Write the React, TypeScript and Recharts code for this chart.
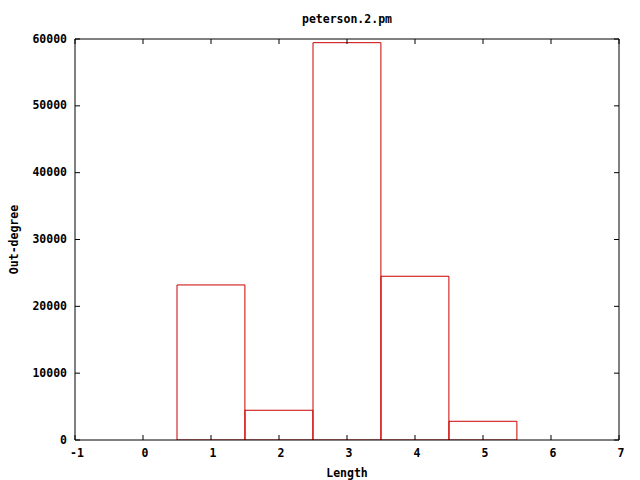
import { ComposedChart, Bar, XAxis, YAxis, Label } from 'recharts';

const lengths = [1, 2, 3, 4, 5];
const outDegree = [23200, 4450, 59450, 24500, 2800];
const xTicks = [-1, 0, 1, 2, 3, 4, 5, 6, 7];
const yTicks = [0, 10000, 20000, 30000, 40000, 50000, 60000];

const chartData = lengths.map((length, i) => ({ length, count: outDegree[i] }));

const FONT = '"DejaVu Sans Mono", monospace';
const TICK = 5;
const RED = '#cc0000';

const textStyle = { fontFamily: FONT, fontSize: 11.5, fontWeight: 700, fill: '#000' };

// plot box: x 75..619, y 39..440
function BottomTick({ x, payload }: any) {
    return (
        <g>
            <line x1={x} y1={440} x2={x} y2={440 - TICK} stroke="#000" />
            <text x={x + 2} y={453} textAnchor="middle" dominantBaseline="middle" {...textStyle}>
                {payload.value}
            </text>
        </g>
    );
}

function TopTick({ x }: any) {
    return <line x1={x} y1={39} x2={x} y2={39 + TICK} stroke="#000" />;
}

function LeftTick({ y, payload }: any) {
    return (
        <g>
            <line x1={75} y1={y} x2={75 + TICK} y2={y} stroke="#000" />
            <text x={67} y={y} textAnchor="end" dominantBaseline="middle" {...textStyle}>
                {payload.value}
            </text>
        </g>
    );
}

function RightTick({ y }: any) {
    return <line x1={619} y1={y} x2={619 - TICK} y2={y} stroke="#000" />;
}

export default function App() {
    return (
        <div style={{ position: 'absolute', left: 0, top: 0, width: 640, height: 480, background: '#fff' }}>
            <ComposedChart
                width={640}
                height={480}
                data={chartData}
                margin={{ top: 9, right: 1, bottom: 0, left: 5 }}
            >
                <XAxis
                    xAxisId="bottom"
                    dataKey="length"
                    type="number"
                    domain={[-1, 7]}
                    ticks={xTicks}
                    interval={0}
                    allowDataOverflow
                    height={40}
                    tickSize={0}
                    tickLine={false}
                    axisLine={{ stroke: '#000' }}
                    tick={<BottomTick />}
                >
                    <Label
                        content={({ viewBox }: any) => (
                            <text
                                x={viewBox.x + viewBox.width / 2}
                                y={473}
                                textAnchor="middle"
                                dominantBaseline="middle"
                                {...textStyle}
                            >
                                Length
                            </text>
                        )}
                    />
                </XAxis>
                <XAxis
                    xAxisId="top"
                    orientation="top"
                    dataKey="length"
                    type="number"
                    domain={[-1, 7]}
                    ticks={xTicks}
                    interval={0}
                    allowDataOverflow
                    height={30}
                    tickSize={0}
                    tickLine={false}
                    axisLine={{ stroke: '#000' }}
                    tick={<TopTick />}
                >
                    <Label
                        content={({ viewBox }: any) => (
                            <text
                                x={viewBox.x + viewBox.width / 2}
                                y={19}
                                textAnchor="middle"
                                dominantBaseline="middle"
                                {...textStyle}
                            >
                                peterson.2.pm
                            </text>
                        )}
                    />
                </XAxis>
                <YAxis
                    yAxisId="left"
                    type="number"
                    domain={[0, 60000]}
                    ticks={yTicks}
                    interval={0}
                    allowDataOverflow
                    width={70}
                    tickSize={0}
                    tickLine={false}
                    axisLine={{ stroke: '#000' }}
                    tick={<LeftTick />}
                >
                    <Label
                        content={({ viewBox }: any) => {
                            const cy = viewBox.y + viewBox.height / 2;
                            return (
                                <text
                                    x={14}
                                    y={cy}
                                    textAnchor="middle"
                                    dominantBaseline="middle"
                                    transform={`rotate(-90, 14, ${cy})`}
                                    {...textStyle}
                                >
                                    Out-degree
                                </text>
                            );
                        }}
                    />
                </YAxis>
                <YAxis
                    yAxisId="right"
                    orientation="right"
                    type="number"
                    domain={[0, 60000]}
                    ticks={yTicks}
                    interval={0}
                    allowDataOverflow
                    width={20}
                    tickSize={0}
                    tickLine={false}
                    axisLine={{ stroke: '#000' }}
                    tick={<RightTick />}
                />
                <Bar
                    xAxisId="bottom"
                    yAxisId="left"
                    dataKey="count"
                    barSize={67.9}
                    fill="none"
                    stroke={RED}
                    strokeWidth={1}
                    isAnimationActive={false}
                />
            </ComposedChart>
        </div>
    );
}
